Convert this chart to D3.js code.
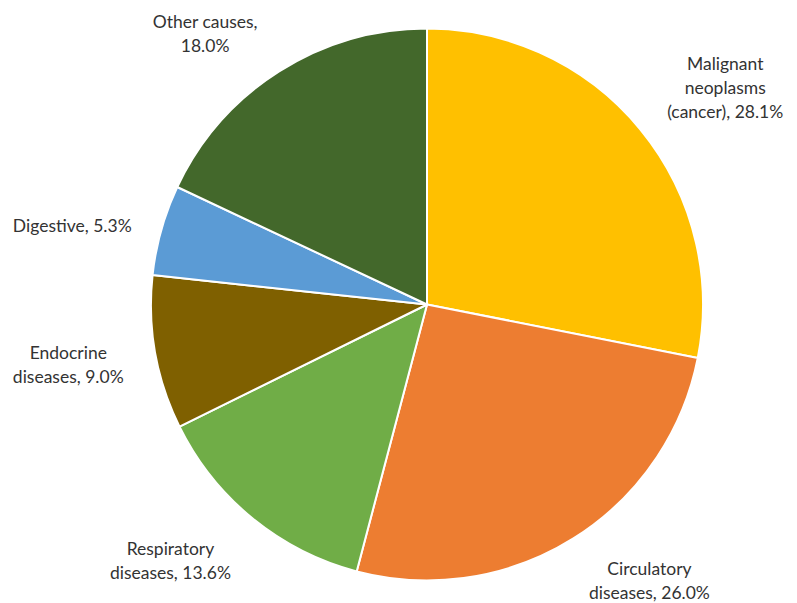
<!DOCTYPE html>
<html>
<head>
<meta charset="utf-8">
<script src="https://cdn.jsdelivr.net/npm/d3@7/dist/d3.min.js"></script>
<style>
  html, body { margin: 0; padding: 0; background: #ffffff; }
  svg { display: block; }
  text { font-family: Lato, "Open Sans", "Noto Sans", sans-serif; font-size: 17.5px; fill: #333333; }
</style>
</head>
<body>
<svg id="chart" width="797" height="603"></svg>
<script>
// Causes of death, share of total (%)
const categories = [
  "Malignant neoplasms (cancer)",
  "Circulatory diseases",
  "Respiratory diseases",
  "Endocrine diseases",
  "Digestive",
  "Other causes"
];
const values = [28.1, 26.0, 13.6, 9.0, 5.3, 18.0];
const labelLines = [
  ["Malignant", "neoplasms", "(cancer), 28.1%"],
  ["Circulatory", "diseases, 26.0%"],
  ["Respiratory", "diseases, 13.6%"],
  ["Endocrine", "diseases, 9.0%"],
  ["Digestive, 5.3%"],
  ["Other causes,", "18.0%"]
];
const colors = ["#FFC000", "#ED7D31", "#70AD47", "#7F6000", "#5B9BD5", "#43682B"];

// Label placement: nudge in px from the point where the slice's mid-angle meets the rim
const labelLayout = [
  { dx: 85,  dy: -41 },
  { dx: 76,  dy: 42 },
  { dx: -82, dy: 43 },
  { dx: -87, dy: 12 },
  { dx: -89, dy: -4 },
  { dx: -74, dy: -38 }
];

const svg = d3.select("#chart");
const cx = 427, cy = 304.5, r = 276;

const data = categories.map((c, i) => ({ name: c, value: values[i], lines: labelLines[i], color: colors[i] }));

const pie = d3.pie().sort(null).value(d => d.value);
const arc = d3.arc().innerRadius(0).outerRadius(r);
const arcs = pie(data);

const g = svg.append("g").attr("transform", `translate(${cx},${cy})`);

g.selectAll("path")
  .data(arcs)
  .join("path")
  .attr("d", arc)
  .attr("fill", d => d.data.color)
  .attr("stroke", "#ffffff")
  .attr("stroke-width", 2)
  .attr("stroke-linejoin", "round");

const lineH = 24;
g.selectAll("text.lbl")
  .data(arcs)
  .join("text")
  .attr("class", "lbl")
  .attr("text-anchor", "middle")
  .each(function(d, i) {
    const a = (d.startAngle + d.endAngle) / 2;
    const L = labelLayout[i];
    const x = Math.sin(a) * r + L.dx;
    const y = -Math.cos(a) * r + L.dy;
    const n = d.data.lines.length;
    const t = d3.select(this);
    d.data.lines.forEach((ln, j) => {
      t.append("tspan")
        .attr("x", x)
        .attr("y", y + (j - (n - 1) / 2) * lineH)
        .attr("dy", "0.35em")
        .text(ln);
    });
  });
</script>
</body>
</html>
